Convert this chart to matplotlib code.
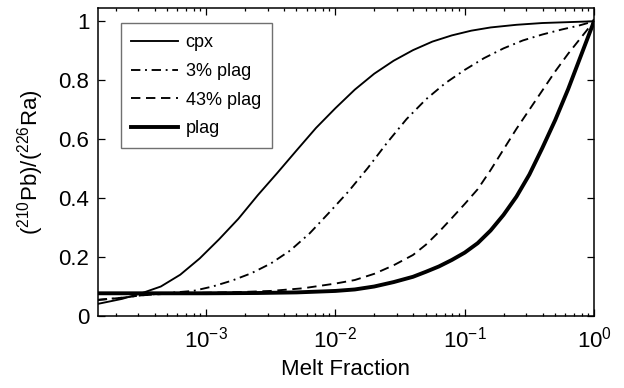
import matplotlib
matplotlib.use("Agg")
from matplotlib import pyplot as plt
import numpy as np

plt.rcParams['font.family'] = ['Liberation Sans', 'DejaVu Sans']
plt.rcParams['mathtext.fontset'] = 'custom'
plt.rcParams['mathtext.rm'] = 'Liberation Sans'
plt.rcParams['mathtext.it'] = 'Liberation Sans:italic'

# log10(melt fraction) and (210Pb)/(226Ra)
cpx_logf = [-3.838, -3.65, -3.5, -3.35, -3.2, -3.05, -2.9, -2.75, -2.6, -2.45,
            -2.3, -2.15, -2.0, -1.85, -1.7, -1.55, -1.4, -1.25, -1.1, -0.95,
            -0.8, -0.6, -0.4, -0.2, 0.0]
cpx_r = [0.041, 0.058, 0.077, 0.100, 0.140, 0.195, 0.260, 0.330, 0.410, 0.485,
         0.562, 0.638, 0.705, 0.768, 0.822, 0.866, 0.902, 0.931, 0.952, 0.968,
         0.979, 0.988, 0.994, 0.997, 1.0]

p3_logf = [-3.838, -3.65, -3.5, -3.3, -3.1, -2.95, -2.8, -2.65, -2.5, -2.35,
           -2.2, -2.05, -1.9, -1.75, -1.6, -1.45, -1.3, -1.15, -1.0, -0.85,
           -0.7, -0.55, -0.4, -0.25, -0.12, 0.0]
p3_r = [0.055, 0.062, 0.070, 0.078, 0.085, 0.100, 0.120, 0.145, 0.178, 0.222,
        0.280, 0.350, 0.422, 0.502, 0.588, 0.668, 0.735, 0.790, 0.835, 0.875,
        0.908, 0.935, 0.955, 0.972, 0.985, 1.0]

p43_logf = [-3.838, -3.65, -3.5, -3.25, -3.0, -2.75, -2.5, -2.25, -2.0, -1.85,
            -1.7, -1.55, -1.4, -1.3, -1.2, -1.1, -1.0, -0.9, -0.8, -0.7,
            -0.6, -0.5, -0.4, -0.3, -0.2, -0.1, 0.0]
p43_r = [0.054, 0.062, 0.070, 0.077, 0.079, 0.081, 0.085, 0.094, 0.110, 0.122,
         0.143, 0.172, 0.207, 0.242, 0.285, 0.332, 0.380, 0.430, 0.495, 0.565,
         0.635, 0.700, 0.765, 0.830, 0.890, 0.945, 1.0]

plag_logf = [-3.838, -3.5, -3.0, -2.6, -2.3, -2.0, -1.85, -1.7, -1.55, -1.4,
             -1.3, -1.2, -1.1, -1.0, -0.9, -0.8, -0.7, -0.6, -0.5, -0.4,
             -0.3, -0.2, -0.1, 0.0]
plag_r = [0.077, 0.077, 0.077, 0.078, 0.080, 0.085, 0.090, 0.100, 0.115, 0.133,
          0.150, 0.168, 0.190, 0.215, 0.247, 0.290, 0.343, 0.405, 0.480, 0.570,
          0.665, 0.770, 0.885, 1.0]

labels = ['cpx', '3% plag', '43% plag', 'plag']

fig = plt.figure(figsize=(6.24, 3.88), dpi=100)
ax = fig.add_axes([0.1566, 0.1856, 0.7954, 0.7938])

ax.plot(10 ** np.array(cpx_logf), cpx_r, color='black', lw=1.35, label=labels[0])
ax.plot(10 ** np.array(p3_logf), p3_r, color='black', lw=1.35,
        dashes=(5.0, 2.5, 1.0, 2.5), label=labels[1])
ax.plot(10 ** np.array(p43_logf), p43_r, color='black', lw=1.35,
        dashes=(5.0, 3.0), label=labels[2])
ax.plot(10 ** np.array(plag_logf), plag_r, color='black', lw=2.8, label=labels[3])

ax.set_xscale('log')
ax.set_xlim(10 ** -3.838, 1.0)
ax.set_ylim(0, 1.045)
ax.set_yticks([0, 0.2, 0.4, 0.6, 0.8, 1])
ax.set_yticklabels(['0', '0.2', '0.4', '0.6', '0.8', '1'])
ax.set_xticks([1e-3, 1e-2, 1e-1, 1])
ax.set_xticklabels([r'$10^{-3}$', r'$10^{-2}$', r'$10^{-1}$', r'$10^{0}$'])

ax.tick_params(which='both', direction='in', top=True, right=True, labelsize=16,
               width=0.9, colors='black')
ax.tick_params(which='major', length=5)
ax.tick_params(which='minor', length=2.5)
ax.tick_params(axis='x', pad=8)
ax.tick_params(axis='y', pad=6)
for s in ax.spines.values():
    s.set_linewidth(1.1)

ax.set_xlabel('Melt Fraction', fontsize=16, labelpad=4)
ax.set_ylabel(r'($^{210}$Pb)/($^{226}$Ra)', fontsize=16)
ax.yaxis.set_label_coords(-0.105, 0.5)

leg = ax.legend(loc='upper left', bbox_to_anchor=(0.046, 0.95), fontsize=13,
                frameon=True, fancybox=False, framealpha=1, edgecolor='#707070',
                handlelength=2.6, handletextpad=0.4, labelspacing=0.65,
                borderpad=0.6, borderaxespad=0)
leg.get_frame().set_linewidth(1.0)

fig.savefig('out.png', dpi=100)
